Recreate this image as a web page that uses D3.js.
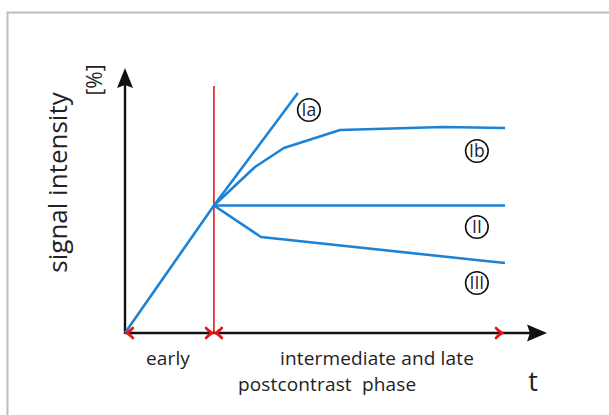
<!DOCTYPE html>
<html><head><meta charset="utf-8">
<script src="https://cdn.jsdelivr.net/npm/d3@7"></script>
<style>html,body{margin:0;padding:0;background:#fff;}svg{display:block;}</style>
</head><body>
<svg id="c" width="609" height="415"></svg>
<script>
// ---- data (time in arbitrary units 0-100, signal intensity in % 0-100) ----
const earlyT = [0, 23.4];
const earlyV = [0, 51];
const curveNames = ["Ia", "Ib", "II", "III"];
const iaT = [23.4, 45.5];
const iaV = [51, 96];
const ibT = [23.4, 34.2, 41.8, 56.6, 83.7, 100];
const ibV = [51, 66.4, 74, 81.2, 82.4, 82];
const iiT = [23.4, 100];
const iiV = [51, 51];
const iiiT = [23.4, 35.8, 90, 100];
const iiiV = [51, 38.4, 29.6, 28];
const labelT = [48.4, 92.6, 92.6, 92.6];
const labelV = [89.2, 72.8, 42.4, 20];
const boundaryT = 23.4;      // end of early phase (red line)
const phaseEndT = 99.2;      // end marker of postcontrast phase
const axisTitleY = "signal intensity";
const axisUnitY = "[%]";
const axisTitleX = "t";
const phaseLabels = ["early", "intermediate and late", "postcontrast  phase"];

const svg = d3.select("#c");
const x = d3.scaleLinear().domain([0, 100]).range([125, 505]);
const y = d3.scaleLinear().domain([0, 100]).range([333, 83]);

// frame
svg.append("rect").attr("x", 7.5).attr("y", 12.5).attr("width", 640).attr("height", 440)
  .attr("fill", "none").attr("stroke", "#bdbdbd").attr("stroke-width", 2);

const blue = "#1c82d6", red = "#e8141b";
const line = d3.line().x(d => x(d[0])).y(d => y(d[1]));
const zip = (a, b) => a.map((v, i) => [v, b[i]]);

// red boundary
svg.append("line").attr("x1", x(boundaryT)).attr("x2", x(boundaryT))
  .attr("y1", y(98.8)).attr("y2", y(0)).attr("stroke", red).attr("stroke-width", 1.6);

// axes
const x0 = x(0), y0 = y(0);
svg.append("line").attr("x1", x0).attr("x2", 530).attr("y1", y0).attr("y2", y0)
  .attr("stroke", "#111").attr("stroke-width", 2.4);
svg.append("line").attr("x1", x0).attr("x2", x0).attr("y1", y0 + 1).attr("y2", 84)
  .attr("stroke", "#111").attr("stroke-width", 2.4);
// arrowheads
svg.append("path").attr("d", `M${x0},68 L${x0 + 8},88 L${x0},85 L${x0 - 8},88 Z`).attr("fill", "#111");
svg.append("path").attr("d", `M547,${y0} L527,${y0 - 8.5} L530,${y0} L527,${y0 + 8.5} Z`).attr("fill", "#111");

// blue curves
const series = [zip(earlyT, earlyV), zip(iaT, iaV), zip(ibT, ibV), zip(iiT, iiV), zip(iiiT, iiiV)];
svg.selectAll("path.curve").data(series).enter().append("path").attr("class", "curve")
  .attr("d", line).attr("fill", "none").attr("stroke", blue).attr("stroke-width", 2.6)
  .attr("stroke-linejoin", "round");

// red chevrons on the time axis
function chevron(tx, dir) { // dir = -1 pointing left, +1 pointing right
  const px = x(tx);
  return `M${px - dir * 6},${y0 - 5} Q${px - dir * 2},${y0 - 1} ${px},${y0} Q${px - dir * 2},${y0 + 1} ${px - dir * 6},${y0 + 5}`;
}
[[0.5, -1], [boundaryT - 0.5, 1], [boundaryT + 0.5, -1], [phaseEndT, 1]].forEach(([t, d]) => {
  svg.append("path").attr("d", chevron(t, d)).attr("fill", "none").attr("stroke", red)
    .attr("stroke-width", 2.6).attr("stroke-linecap", "round");
});

// curve labels
const lab = svg.selectAll("g.lab").data(curveNames).enter().append("g").attr("class", "lab")
  .attr("transform", (d, i) => `translate(${x(labelT[i])},${y(labelV[i])})`);
lab.append("circle").attr("r", 11.3).attr("fill", "#fff").attr("stroke", "#111").attr("stroke-width", 1.6);
lab.append("text").text(d => d).attr("text-anchor", "middle").attr("dy", "0.36em")
  .attr("font-family", "Open Sans").attr("font-size", 17.5).attr("font-weight", 500).attr("fill", "#1c1c3a");

// axis titles
svg.append("text").text(axisTitleY).attr("transform", "translate(67,182.5) rotate(-90)")
  .attr("text-anchor", "middle").attr("font-family", "Open Sans").attr("font-size", 26).attr("fill", "#222");
svg.append("text").text(axisUnitY).attr("transform", "translate(102,80) rotate(-90)")
  .attr("text-anchor", "middle").attr("font-family", "Open Sans").attr("font-size", 21).attr("fill", "#222");
svg.append("text").text(axisTitleX).attr("x", 533).attr("y", 391)
  .attr("text-anchor", "middle").attr("font-family", "Open Sans").attr("font-size", 27).attr("fill", "#222");

// phase labels
const pf = { "font-family": "Open Sans", "font-size": 19, "fill": "#222", "letter-spacing": 0.15 };
function t(txt, xx, yy, anchor) {
  const el = svg.append("text").text(txt).attr("x", xx).attr("y", yy).attr("text-anchor", anchor)
    .attr("xml:space", "preserve").style("white-space", "pre");
  Object.entries(pf).forEach(([k, v]) => el.attr(k, v));
  return el;
}
t(phaseLabels[0], 168, 365, "middle");
t(phaseLabels[1], 377, 365, "middle");
t(phaseLabels[2], 238, 391, "start");
</script>
</body></html>
